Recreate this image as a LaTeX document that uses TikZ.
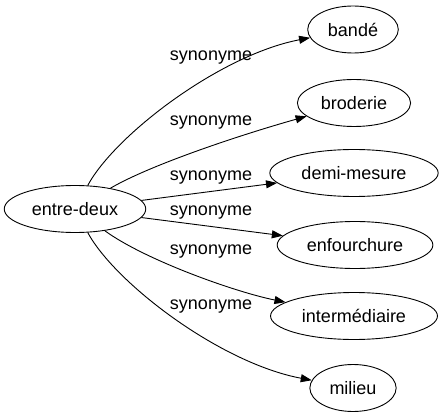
\documentclass[tikz,border=0pt]{standalone}
\usepackage{fontspec}
\setmainfont{Liberation Sans}
\usetikzlibrary{arrows.meta,shapes.geometric}
\begin{document}
\begin{tikzpicture}[x=1pt,y=-1pt,line width=0.9pt,
    word/.style={draw,ellipse,inner xsep=7pt,inner ysep=3pt,minimum height=47pt,font=\fontsize{18}{22}\selectfont},
    lbl/.style={inner sep=0pt,font=\fontsize{18}{22}\selectfont},
    syn/.style={-{Triangle[length=11pt,width=8pt]}}]
        \useasboundingbox (0,0) rectangle (443,419);
        \node[word] (entre) at (75,209) {entre-deux};
        \node[word] (bande) at (353,29.5) {bandé};
        \node[word] (broderie) at (354,103) {broderie};
        \node[word] (demi) at (354,173) {demi-mesure};
        \node[word] (enfourchure) at (355,245) {enfourchure};
        \node[word] (inter) at (354,316) {intermédiaire};
        \node[word] (milieu) at (353,388) {milieu};
        \draw[syn] (entre) .. controls (115,135) and (220,55) .. (bande);
        \draw[syn] (entre) .. controls (150,165) and (240,135) .. (broderie);
        \draw[syn] (entre) -- (demi);
        \draw[syn] (entre) -- (enfourchure);
        \draw[syn] (entre) .. controls (145,260) and (235,292) .. (inter);
        \draw[syn] (entre) .. controls (115,283) and (220,363) .. (milieu);
        \node[lbl] (l1) at (211,58) {synonyme};
        \node[lbl] (l2) at (211,123) {synonyme};
        \node[lbl] (l3) at (211,178) {synonyme};
        \node[lbl] (l4) at (211,213) {synonyme};
        \node[lbl] (l5) at (211,252) {synonyme};
        \node[lbl] (l6) at (211,307) {synonyme};
\end{tikzpicture}
\end{document}
